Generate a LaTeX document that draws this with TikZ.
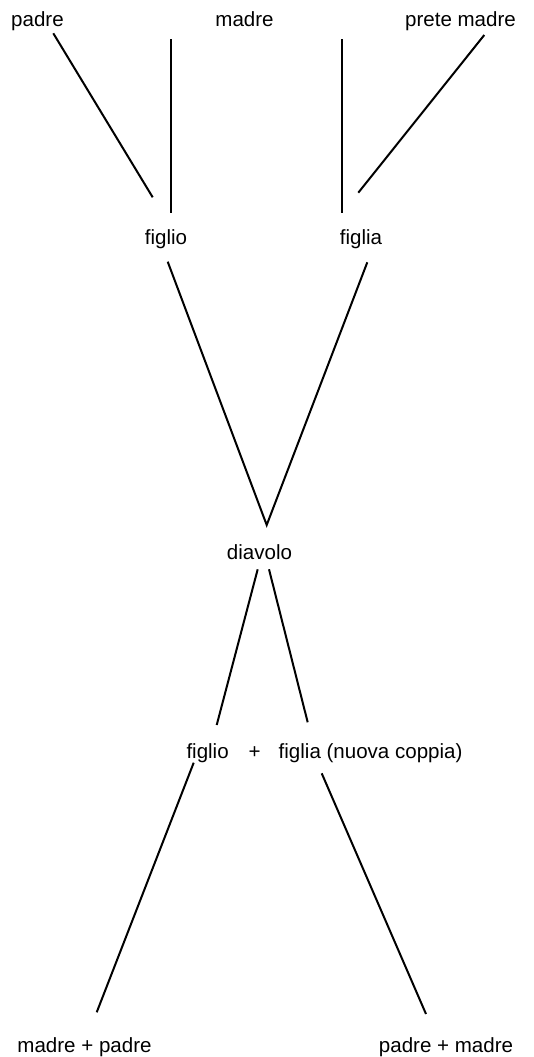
\documentclass[tikz,border=0pt]{standalone}
\usepackage{fontspec}
\setmainfont{Liberation Sans}
\begin{document}
\begin{tikzpicture}[x=0.75pt,y=-0.75pt,
  lbl/.style={anchor=base,inner sep=0pt,font=\fontsize{15.4pt}{18pt}\selectfont},
  conn/.style={line width=1.5pt}]
\useasboundingbox (0,0) rectangle (533,1057);
% labels
\node[lbl] (padre) at (37.5,26.7) {padre};
\node[lbl] (madre) at (244.5,26.7) {madre};
\node[lbl] (prete) at (460.5,26.7) {prete madre};
\node[lbl] (figlio) at (166,244) {figlio};
\node[lbl] (figlia) at (361,244) {figlia};
\node[lbl] (diavolo) at (259.5,559) {diavolo};
\node[lbl] (coppia) at (324.5,758) {figlio\hspace{15pt}+\hspace{13.5pt}figlia (nuova coppia)};
\node[lbl] (mp) at (84.5,1052) {madre + padre};
\node[lbl] (pm) at (446,1052) {padre + madre};
% connector ends
\coordinate (a1) at (53.3,33.3);   \coordinate (a2) at (152.7,197.3);
\coordinate (b1) at (171,39);      \coordinate (b2) at (171,213.3);
\coordinate (c1) at (341.7,39);    \coordinate (c2) at (341.7,213.3);
\coordinate (d1) at (484.3,35);    \coordinate (d2) at (358.3,192.7);
\coordinate (e1) at (167.7,261.7); \coordinate (v) at (266.7,525);
\coordinate (f1) at (367.3,262.3);
\coordinate (g1) at (257.7,569.3); \coordinate (g2) at (216.7,725);
\coordinate (h1) at (269,569.3);   \coordinate (h2) at (307.7,722.3);
\coordinate (i1) at (193.7,762.7); \coordinate (i2) at (96.7,1012.3);
\coordinate (j1) at (321.7,773.3); \coordinate (j2) at (426,1014);
% connectors
\draw[conn] (a1) -- (a2);
\draw[conn] (b1) -- (b2);
\draw[conn] (c1) -- (c2);
\draw[conn] (d1) -- (d2);
\draw[conn] (e1) -- (v) -- (f1);
\draw[conn] (g1) -- (g2);
\draw[conn] (h1) -- (h2);
\draw[conn] (i1) -- (i2);
\draw[conn] (j1) -- (j2);
\end{tikzpicture}
\end{document}
